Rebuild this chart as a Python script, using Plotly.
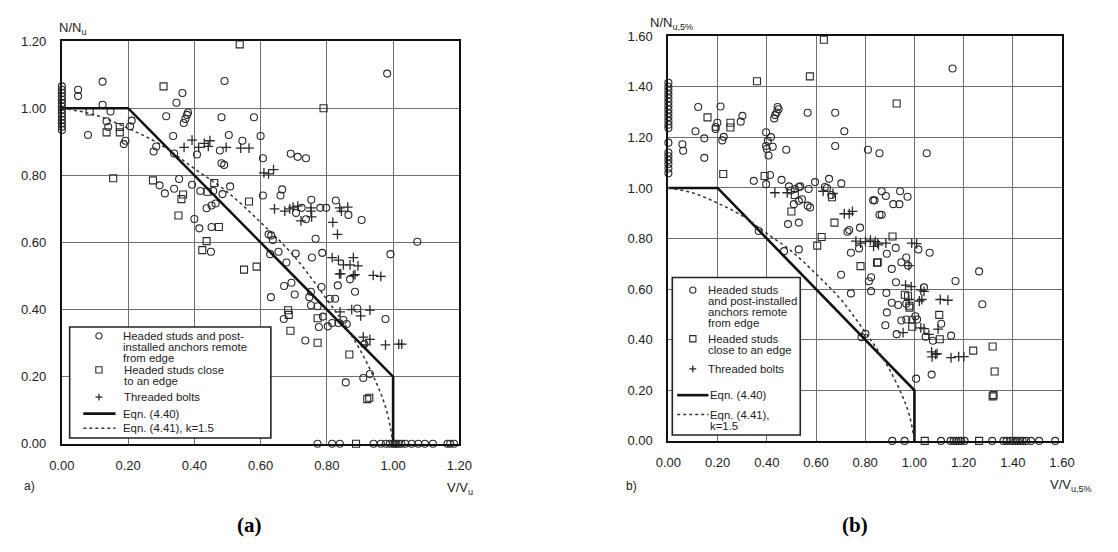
import plotly.graph_objects as go

# ---------------- Panel (a) data ----------------
a_circ_v = [0, 0, 0, 0, 0, 0, 0, 0, 0, 0, 0, 0, 0, 0,
            0.049, 0.049, 0.123, 0.123, 0.147, 0.079, 0.135, 0.14, 0.187, 0.192, 0.206, 0.211,
            0.364, 0.346, 0.315, 0.381, 0.378, 0.373, 0.368, 0.491, 0.482, 0.58, 0.336, 0.285,
            0.277, 0.339, 0.408, 0.477, 0.504, 0.482, 0.49, 0.545,
            0.295, 0.311, 0.339, 0.354, 0.393, 0.418, 0.457, 0.485, 0.508, 0.437, 0.452, 0.464,
            0.4, 0.415, 0.452, 0.45,
            0.982, 0.6, 0.607, 0.691, 0.712, 0.737, 0.607, 0.66, 0.665, 0.753, 0.827, 0.707,
            0.724, 0.78, 0.798, 0.865, 0.905, 0.737, 0.766, 1.073, 0.624, 0.632, 0.637,
            0.629, 0.654, 0.706, 0.755, 0.786, 0.678, 0.992, 0.87, 0.833, 0.784, 0.693, 0.671,
            0.631, 0.703, 0.752, 0.885, 0.747, 0.752, 0.772, 0.809, 0.825, 0.67, 0.788, 0.776,
            0.803, 0.816, 0.835, 0.85, 0.86, 0.892, 0.977, 0.735, 0.913, 0.93, 0.91, 0.857,
            0.772, 0.816, 0.839, 0.941, 0.963, 0.978, 0.99, 1.0, 1.005, 1.01, 1.017, 1.025,
            1.037, 1.056, 1.076, 1.096, 1.12, 1.164, 1.172, 1.184]
a_circ_n = [0.935, 0.945, 0.955, 0.965, 0.975, 0.985, 0.995, 1.005, 1.015, 1.025, 1.035, 1.045, 1.055, 1.065,
            1.055, 1.036, 1.079, 1.01, 0.99, 0.92, 0.961, 0.944, 0.893, 0.903, 0.946, 0.963,
            1.045, 1.016, 0.976, 0.987, 0.98, 0.968, 0.956, 1.081, 0.973, 0.973, 0.917, 0.886,
            0.871, 0.865, 0.862, 0.874, 0.92, 0.836, 0.831, 0.903,
            0.77, 0.746, 0.76, 0.789, 0.772, 0.753, 0.753, 0.744, 0.767, 0.702, 0.71, 0.716,
            0.67, 0.642, 0.646, 0.572,
            1.103, 0.917, 0.851, 0.864, 0.855, 0.851, 0.74, 0.74, 0.758, 0.727, 0.725, 0.688,
            0.703, 0.703, 0.703, 0.682, 0.667, 0.669, 0.611, 0.602, 0.624, 0.621, 0.607,
            0.565, 0.572, 0.567, 0.555, 0.569, 0.54, 0.565, 0.49, 0.472, 0.467, 0.48, 0.47,
            0.437, 0.445, 0.453, 0.453, 0.437, 0.413, 0.41, 0.432, 0.432, 0.372, 0.379, 0.348,
            0.35, 0.36, 0.36, 0.369, 0.357, 0.403, 0.372, 0.308, 0.297, 0.208, 0.196, 0.183,
            0, 0, 0, 0, 0, 0, 0, 0, 0, 0, 0, 0,
            0, 0, 0, 0, 0, 0, 0, 0]

a_sq_v = [0.084, 0.135, 0.175, 0.175, 0.155, 0.307, 0.537, 0.275, 0.366, 0.361, 0.44, 0.46,
          0.565, 0.352, 0.474, 0.437, 0.424, 0.79, 0.55, 0.588, 0.683, 0.685, 0.69, 0.772,
          0.772, 0.868, 0.922, 0.928, 0.888]
a_sq_n = [0.99, 0.928, 0.944, 0.928, 0.791, 1.065, 1.19, 0.785, 0.743, 0.729, 0.751, 0.777,
          0.722, 0.68, 0.646, 0.604, 0.577, 1.0, 0.519, 0.528, 0.398, 0.384, 0.337, 0.374,
          0.301, 0.266, 0.133, 0.137, 0]

a_plus_v = [0.369, 0.393, 0.413, 0.43, 0.447, 0.442, 0.496, 0.54, 0.565, 0.61, 0.624, 0.639,
            0.642, 0.673, 0.688, 0.698, 0.712, 0.752, 0.752, 0.839, 0.844, 0.863, 0.722, 0.754,
            0.818, 0.832, 0.816, 0.835, 0.85, 0.87, 0.88, 0.894, 0.838, 0.842, 0.88, 0.885,
            0.94, 0.963, 0.84, 0.875, 0.902, 0.93, 0.91, 0.93, 0.918, 0.977, 1.017, 1.026]
a_plus_n = [0.883, 0.905, 0.883, 0.895, 0.903, 0.886, 0.883, 0.881, 0.881, 0.807, 0.804, 0.817,
            0.7, 0.693, 0.7, 0.705, 0.708, 0.703, 0.693, 0.703, 0.693, 0.705, 0.664, 0.676,
            0.66, 0.624, 0.555, 0.547, 0.533, 0.533, 0.555, 0.53, 0.506, 0.506, 0.501, 0.504,
            0.502, 0.499, 0.393, 0.4, 0.381, 0.398, 0.318, 0.311, 0.295, 0.295, 0.297, 0.297]

# ---------------- Panel (b) data ----------------
b_circ_v = [0] * 20 + [
    0.121, 0.212, 0.301, 0.294, 0.199, 0.192, 0.192, 0.11, 0.146, 0.225, 0.219, 0.057,
    0.06, 0.146, 0.444, 0.448, 0.44, 0.434, 0.43, 0.397, 0.404, 0.397, 0.4, 0.407,
    0.417, 0.424, 0.479, 0.566, 0.678, 0.715, 0.678, 0.811, 0.858, 0.413, 0.347, 0.397,
    0.46, 0.49, 0.514, 0.53, 0.536, 0.57, 0.596, 0.636, 0.653, 0.703, 0.497, 0.543,
    0.53, 0.51, 0.566, 0.576, 0.645, 0.662, 0.486, 0.53, 0.728, 0.735, 0.779, 0.832,
    0.858, 0.53, 0.47, 0.742, 0.775, 0.367,
    0.702, 0.824, 0.815, 0.742, 0.824, 0.801, 0.785,
    0.888, 0.967, 0.947, 0.974, 0.908, 1.263, 1.167, 0.925, 1.039, 0.886, 1.276,
    0.908, 0.934, 0.967, 0.888, 0.947, 0.967, 0.991, 1.004, 1.011, 0.882, 1.109, 0.928,
    1.046, 1.075, 1.149, 1.07, 1.007,
    1.155, 1.05, 0.867, 0.884, 0.942, 0.972, 0.914, 0.939, 0.838, 0.867, 0.924, 1.016, 1.062,
    0.91, 0.96, 1.108, 1.147, 1.16, 1.17, 1.18, 1.19, 1.204, 1.316, 1.362, 1.375,
    1.39, 1.4, 1.41, 1.42, 1.43, 1.44, 1.454, 1.474, 1.507, 1.572]
b_circ_n = [1.058, 1.077, 1.095, 1.11, 1.125, 1.14, 1.179, 1.237, 1.25, 1.265, 1.28, 1.295,
            1.31, 1.325, 1.34, 1.355, 1.37, 1.385, 1.4, 1.416] + [
    1.32, 1.322, 1.285, 1.262, 1.258, 1.241, 1.233, 1.224, 1.196, 1.202, 1.188, 1.173,
    1.147, 1.119, 1.32, 1.311, 1.298, 1.288, 1.275, 1.22, 1.186, 1.166, 1.154, 1.128,
    1.201, 1.163, 1.151, 1.297, 1.297, 1.224, 1.166, 1.151, 1.137, 1.051, 1.028, 1.015,
    1.032, 1.006, 0.996, 1.004, 1.006, 0.996, 1.023, 1.004, 1.036, 1.018, 0.99, 0.955,
    0.949, 0.936, 0.93, 0.923, 1.0, 0.972, 0.857, 0.863, 0.827, 0.834, 0.843, 0.951,
    0.894, 0.757, 0.75, 0.744, 0.761, 0.83,
    0.657, 0.647, 0.631, 0.583, 0.592, 0.423, 0.41,
    0.74, 0.725, 0.706, 0.693, 0.68, 0.67, 0.632, 0.627, 0.607, 0.585, 0.54,
    0.546, 0.537, 0.542, 0.508, 0.476, 0.48, 0.48, 0.493, 0.48, 0.457, 0.463, 0.422,
    0.412, 0.396, 0.416, 0.262, 0.246,
    1.472, 1.137, 0.987, 0.968, 0.987, 0.965, 0.936, 0.936, 0.951, 0.894, 0.763, 0.757, 0.744,
    0, 0, 0, 0, 0, 0, 0, 0, 0, 0, 0, 0,
    0, 0, 0, 0, 0, 0, 0, 0, 0, 0]

b_sq_v = [0.632, 0.36, 0.575, 0.159, 0.252, 0.252, 0.223, 0.391, 0.514, 0.665, 0.5, 0.675,
          0.623, 0.605, 0.781, 0.848, 0.928, 0.911, 0.851, 0.961, 0.974, 0.98, 0.98, 0.991,
          1.101, 1.103, 1.239, 1.318, 1.326, 1.322, 1.318, 1.042, 1.263]
b_sq_n = [1.586, 1.422, 1.441, 1.279, 1.258, 1.239, 1.055, 1.047, 0.972, 0.963, 0.907, 0.863,
          0.806, 0.772, 0.691, 0.704, 1.334, 0.808, 0.706, 0.578, 0.572, 0.534, 0.527, 0.451,
          0.498, 0.402, 0.357, 0.373, 0.274, 0.181, 0.176, 0, 0]

b_plus_v = [0.433, 0.483, 0.629, 0.669, 0.715, 0.735, 0.748, 0.762, 0.781, 0.801, 0.821, 0.841,
            0.854, 0.834, 0.851, 0.884, 0.989, 1.009, 0.978, 0.964, 0.987, 1.026, 1.039, 0.978,
            1.02, 1.03, 1.105, 1.136, 1.026, 1.039, 1.096, 0.954, 1.059, 1.07, 1.086, 1.072,
            1.092, 1.149, 1.18, 1.201]
b_plus_n = [0.981, 0.981, 0.987, 0.978, 0.898, 0.898, 0.907, 0.79, 0.782, 0.788, 0.794, 0.788,
            0.775, 0.769, 0.782, 0.782, 0.782, 0.78, 0.693, 0.616, 0.61, 0.597, 0.591, 0.559,
            0.553, 0.559, 0.559, 0.556, 0.447, 0.444, 0.442, 0.428, 0.421, 0.352, 0.342, 0.332,
            0.345, 0.329, 0.333, 0.333]

# Interaction curves
eq440_v = [0.0, 0.2, 1.0, 1.0]
eq440_n = [1.0, 1.0, 0.2, 0.0]
eq441_v = [0.0, 0.1, 0.2, 0.3, 0.4, 0.5, 0.6, 0.7, 0.8, 0.85, 0.9, 0.95, 0.98, 1.0]
eq441_n = [1.0, 0.98, 0.94, 0.89, 0.82, 0.75, 0.66, 0.56, 0.43, 0.36, 0.28, 0.18, 0.10, 0.0]

a_ticks = [0.0, 0.2, 0.4, 0.6, 0.8, 1.0, 1.2]
b_ticks = [0.0, 0.2, 0.4, 0.6, 0.8, 1.0, 1.2, 1.4, 1.6]

# legend texts, one list of lines per entry
legend_a = [["Headed studs and post-", "installed anchors remote", "from edge"],
            ["Headed studs close", "to an edge"], ["Threaded bolts"],
            ["Eqn. (4.40)"], ["Eqn. (4.41), k=1.5"]]
legend_b = [["Headed studs", "and post-installed", "anchors remote", "from edge"],
            ["Headed studs", "close to an edge"], ["Threaded bolts"],
            ["Eqn. (4.40)"], ["Eqn. (4.41),", "k=1.5"]]

W, H = 1118, 552
INK = "#2a2a2a"
FONT = "Liberation Sans, Arial, Helvetica, sans-serif"


def px(x):
    return x / W


def py(y):
    return 1 - y / H


fig = go.Figure()


def add_panel(xa, ya, cv, cn, sv, sn, pv, pn):
    common = dict(xaxis=xa, yaxis=ya, mode="markers", cliponaxis=False, showlegend=False)
    fig.add_trace(go.Scatter(x=cv, y=cn, name="Headed studs remote from edge",
                             marker=dict(symbol="circle-open", size=7, color=INK, line=dict(width=1.1)),
                             **common))
    fig.add_trace(go.Scatter(x=sv, y=sn, name="Headed studs close to an edge",
                             marker=dict(symbol="square-open", size=7, color=INK, line=dict(width=1.1)),
                             **common))
    fig.add_trace(go.Scatter(x=pv, y=pn, name="Threaded bolts",
                             marker=dict(symbol="cross-thin-open", size=7, color=INK, line=dict(width=1.3)),
                             **common))
    fig.add_trace(go.Scatter(x=eq440_v, y=eq440_n, name="Eqn. (4.40)", mode="lines",
                             line=dict(color="#111111", width=2.6), xaxis=xa, yaxis=ya,
                             cliponaxis=False, showlegend=False))
    fig.add_trace(go.Scatter(x=eq441_v, y=eq441_n, name="Eqn. (4.41)", mode="lines",
                             line=dict(color="#333333", width=1.5, dash="dot", shape="spline"),
                             xaxis=xa, yaxis=ya, showlegend=False))


add_panel("x", "y", a_circ_v, a_circ_n, a_sq_v, a_sq_n, a_plus_v, a_plus_n)
add_panel("x2", "y2", b_circ_v, b_circ_n, b_sq_v, b_sq_n, b_plus_v, b_plus_n)


def axis(dom, rng, ticks, anchor, standoff):
    return dict(domain=dom, range=rng, tickvals=ticks, ticktext=[f"{t:.2f}" for t in ticks],
                showgrid=True, gridcolor="#6f6f6f", gridwidth=1, zeroline=False,
                showline=True, linecolor="#111111", linewidth=2, mirror=True,
                ticks="", ticklabelstandoff=standoff, anchor=anchor,
                tickfont=dict(family=FONT, size=13, color="#222222"))


fig.update_layout(
    width=W, height=H, margin=dict(l=0, r=0, t=0, b=0),
    paper_bgcolor="white", plot_bgcolor="white", showlegend=False,
    xaxis=axis([px(50), px(457)], [0, 1.2], a_ticks, "y", 9),
    yaxis=axis([py(449), py(35)], [0, 1.2], a_ticks, "x", 11),
    xaxis2=axis([px(671), px(1074)], [0, 1.6], b_ticks, "y2", 9),
    yaxis2=axis([py(446), py(30)], [0, 1.6], b_ticks, "x2", 11),
)


def text(t, x, y, size=11.4, anchor="left", family=FONT, color="#222222"):
    fig.add_annotation(text=t, x=px(x), y=py(y), xref="paper", yref="paper",
                       xanchor=anchor, yanchor="middle", showarrow=False,
                       font=dict(family=family, size=size, color=color))


def shape(**kw):
    fig.add_shape(xref="paper", yref="paper", layer="above", **kw)


def draw_legend(box, mx, line_x, rows, lines):
    x0, y0, x1, y1 = box
    shape(type="rect", x0=px(x0), y0=py(y0), x1=px(x1), y1=py(y1),
          fillcolor="white", line=dict(color="#222222", width=1.6))
    r = 3.2
    cy = rows[0][0]
    shape(type="circle", x0=px(mx - r), x1=px(mx + r), y0=py(cy + r), y1=py(cy - r),
          line=dict(color=INK, width=1.1))
    cy = rows[1][0]
    shape(type="rect", x0=px(mx - r), x1=px(mx + r), y0=py(cy + r), y1=py(cy - r),
          line=dict(color=INK, width=1.1))
    cy = rows[2][0]
    shape(type="line", x0=px(mx - 3.5), x1=px(mx + 3.5), y0=py(cy), y1=py(cy),
          line=dict(color=INK, width=1.3))
    shape(type="line", x0=px(mx), x1=px(mx), y0=py(cy - 3.5), y1=py(cy + 3.5),
          line=dict(color=INK, width=1.3))
    cy = rows[3][0]
    shape(type="line", x0=px(line_x[0]), x1=px(line_x[1]), y0=py(cy), y1=py(cy),
          line=dict(color="#111111", width=2.6))
    cy = rows[4][0]
    shape(type="line", x0=px(line_x[0]), x1=px(line_x[1]), y0=py(cy), y1=py(cy),
          line=dict(color="#333333", width=1.5, dash="dot"))
    for (ys, xs), entry in zip(rows, lines):
        for k, ln in enumerate(entry):
            text(ln, xs, ys + k * 11.2)


draw_legend((58, 329, 264, 443), 88, (72, 105),
            [(338, 111), (373, 112), (401, 112), (418, 111), (433, 111)], legend_a)
draw_legend((675, 278, 806, 440), 696, (680, 712),
            [(291, 709), (341, 710), (372, 710), (399, 712), (419, 712)], legend_b)

# axis titles & panel labels
text("N/N<sub>u</sub>", 45, 22, size=13)
text("V/V<sub>u</sub>", 442, 495, size=13)
text("a)", 9, 492, size=12)
text("N/N<sub>u,5%</sub>", 650, 17, size=13)
text("V/V<sub>u,5%</sub>", 1060, 492, size=13)
text("b)", 626, 492, size=12)
text("<b>(a)</b>", 242, 532, size=21, anchor="center",
     family="Liberation Serif, Times New Roman, serif", color="#000000")
text("<b>(b)</b>", 862, 532, size=21, anchor="center",
     family="Liberation Serif, Times New Roman, serif", color="#000000")

fig.write_html("out.html", config={"displayModeBar": False, "staticPlot": True},
               post_script="document.body.style.margin='0px';")
